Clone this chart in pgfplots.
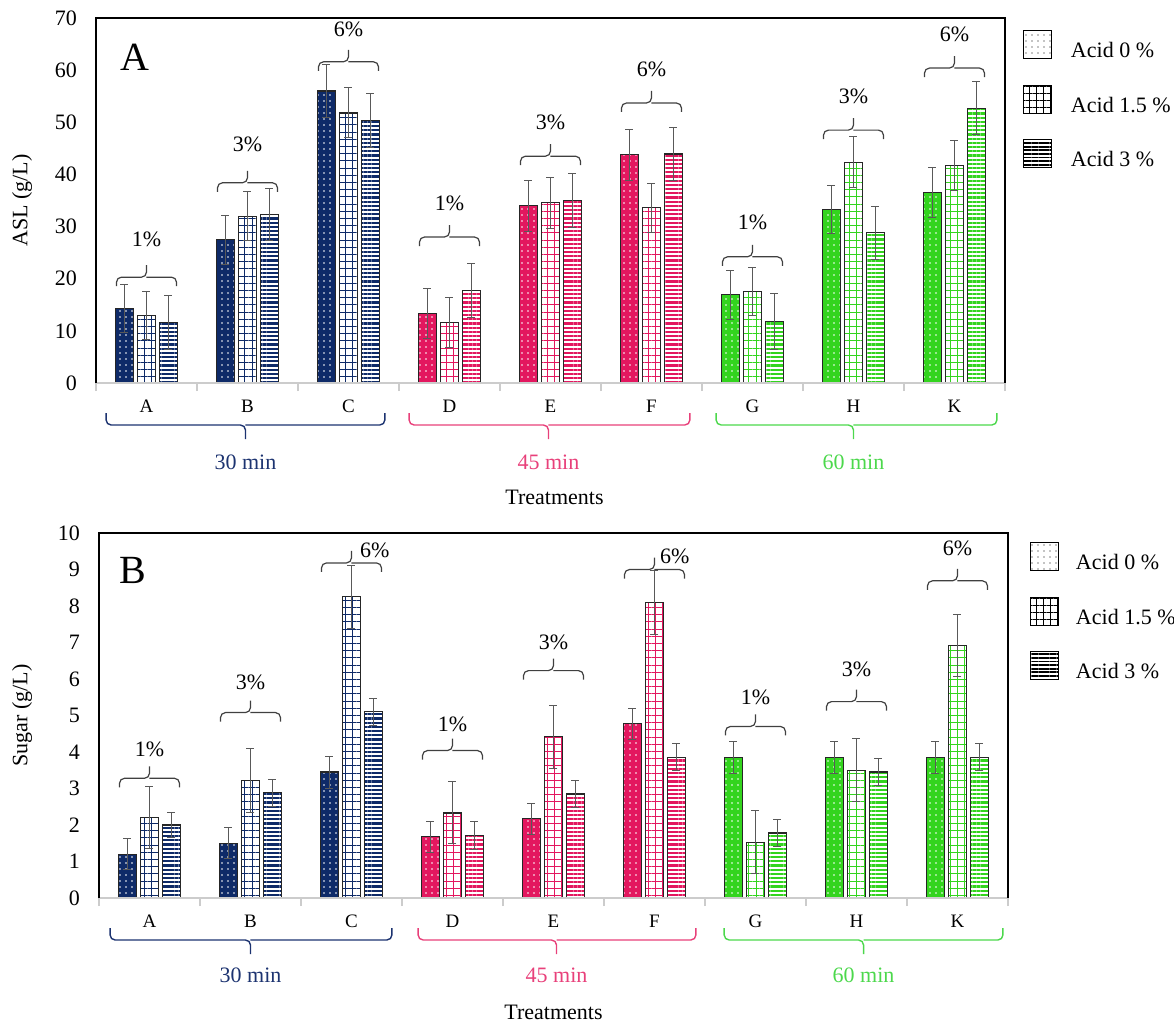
\documentclass[border=0pt]{standalone}
\usepackage{fontspec}
\setmainfont{Liberation Serif}
\usepackage{pgfplots}
\pgfplotsset{compat=1.18}
\usetikzlibrary{patterns.meta}

\definecolor{navy}{HTML}{0E2A68}
\definecolor{pinkc}{HTML}{E3175F}
\definecolor{greenc}{HTML}{33D41E}
\definecolor{navyt}{HTML}{1C3370}
\definecolor{pinkt}{HTML}{E8407A}
\definecolor{greent}{HTML}{4CD84C}

\newcommand\fs{\fontsize{11}{13}\selectfont}
\newcommand\fcat{\fontsize{9.5}{11}\selectfont}

\tikzset{
 dotbar/.style={preaction={fill=#1}, pattern={Dots[radius=0.4pt, distance=3pt]}, pattern color=white, draw=black!85, line width=0.6pt},
 gridbar/.style={preaction={fill=white}, pattern={Hatch[angle=0, distance=3.6pt, line width=0.5pt]}, pattern color=#1, draw=black!85, line width=0.6pt},
 linebar/.style={preaction={fill=white}, pattern={Lines[angle=0, distance=2.1pt, line width=1.1pt]}, pattern color=#1, draw=black!85, line width=0.6pt},
 dotleg/.style={preaction={fill=white}, pattern={Dots[radius=0.35pt, distance=3pt]}, pattern color=black, draw=black, line width=0.5pt},
 gridleg/.style={preaction={fill=white}, pattern={Hatch[angle=0, distance=3.5pt, line width=0.5pt]}, pattern color=black, draw=black, line width=0.5pt},
 lineleg/.style={preaction={fill=white}, pattern={Lines[angle=0, distance=1.8pt, line width=0.9pt]}, pattern color=black, draw=black, line width=0.5pt},
}

\pgfplotsset{
 eb/.style={error bars/.cd, y dir=both, y explicit,
   error bar style={line width=0.5pt, color=black!65},
   error mark options={rotate=90, mark size=2pt, line width=0.5pt, color=black!65}},
 panel/.style={
   scale only axis, width=454.5pt, height=182.5pt, anchor=south west,
   ybar, bar width=9pt,
   xmin=-0.5, xmax=8.5, ymin=0,
   xtick={0,...,8}, xticklabels={A,B,C,D,E,F,G,H,K},
   major tick length=0pt,
   extra x ticks={-0.5,0.5,...,8.5}, extra x tick labels={},
   extra x tick style={major tick length=4pt, tick align=outside, tick style={black!20, line width=0.6pt}},
   xtick pos=bottom, ytick pos=left,
   axis line style={draw=none},
   clip=false,
   ticklabel style={font=\fs},
   xticklabel style={font=\fcat, yshift=-5pt},
   yticklabel style={xshift=-6pt},
   /pgf/number format/assume math mode=true,
   legend style={draw=none, fill=none, inner sep=0pt, outer sep=0pt, row sep=12pt, font=\fs,
     nodes={inner sep=0pt}, /tikz/every odd column/.append style={column sep=9.5pt}},
   legend cell align=left,
   legend image code/.code={\draw[##1] (0pt,-3.5pt) rectangle (14pt,10.5pt);},
 }
}

% brace over a category: x, y of brace line, text, label x, label yshift
\newcommand\pbrace[5]{%
 \draw[black!75, line width=0.6pt, rounded corners=2.5pt]
   ([xshift=-15pt, yshift=-4.5pt]axis cs:#1,#2) |- (axis cs:#1,#2) -- ([yshift=6pt]axis cs:#1,#2);
 \draw[black!75, line width=0.6pt, rounded corners=2.5pt]
   ([xshift=15pt, yshift=-4.5pt]axis cs:#1,#2) |- (axis cs:#1,#2);
 \node[font=\fs] at ([yshift=#5]axis cs:#4,#2) {#3};}
% group brace below axis: x1, x2, xm, colour
\newcommand\gbrace[4]{%
 \draw[#4, line width=0.7pt, rounded corners=2.5pt] ([yshift=-15pt]axis cs:#1,0) |- ([yshift=-21pt]axis cs:#3,0) -- ([yshift=-28pt]axis cs:#3,0);
 \draw[#4, line width=0.7pt, rounded corners=2.5pt] ([yshift=-15pt]axis cs:#2,0) |- ([yshift=-21pt]axis cs:#3,0);}

\begin{document}
\begin{tikzpicture}
\useasboundingbox (0,0) rectangle (587pt,512.5pt);

% ================= Panel A =================
\begin{axis}[panel, at={(48pt,321pt)}, ymax=70, ytick={0,10,...,70},
  legend style={at={(1,1)}, anchor=north west, xshift=9pt, yshift=-6pt}]
\addlegendimage{dotleg}\addlegendentry{Acid 0 \%}
\addlegendimage{gridleg}\addlegendentry{Acid 1.5 \%}
\addlegendimage{lineleg}\addlegendentry{Acid 3 \%}
% 30 min
\addplot[bar shift=-11pt, dotbar=navy, forget plot, eb] coordinates {(0,14.3) +- (0,4.6) (1,27.5) +- (0,4.7) (2,56.0) +- (0,5.0)};
\addplot[bar shift=0pt, gridbar=navy, forget plot, eb] coordinates {(0,13.0) +- (0,4.6) (1,32.0) +- (0,4.7) (2,51.8) +- (0,4.8)};
\addplot[bar shift=11pt, linebar=navy, forget plot, eb] coordinates {(0,11.6) +- (0,5.1) (1,32.3) +- (0,5.0) (2,50.3) +- (0,5.2)};
% 45 min
\addplot[bar shift=-11pt, dotbar=pinkc, forget plot, eb] coordinates {(3,13.3) +- (0,4.8) (4,34.0) +- (0,4.9) (5,43.8) +- (0,4.9)};
\addplot[bar shift=0pt, gridbar=pinkc, forget plot, eb] coordinates {(3,11.6) +- (0,4.8) (4,34.6) +- (0,4.9) (5,33.6) +- (0,4.7)};
\addplot[bar shift=11pt, linebar=pinkc, forget plot, eb] coordinates {(3,17.8) +- (0,5.2) (4,35.0) +- (0,5.2) (5,43.9) +- (0,5.1)};
% 60 min
\addplot[bar shift=-11pt, dotbar=greenc, forget plot, eb] coordinates {(6,16.9) +- (0,4.7) (7,33.2) +- (0,4.6) (8,36.5) +- (0,4.8)};
\addplot[bar shift=0pt, gridbar=greenc, forget plot, eb] coordinates {(6,17.5) +- (0,4.6) (7,42.3) +- (0,4.9) (8,41.7) +- (0,4.8)};
\addplot[bar shift=11pt, linebar=greenc, forget plot, eb] coordinates {(6,11.8) +- (0,5.3) (7,28.8) +- (0,5.1) (8,52.7) +- (0,5.1)};

\draw[black!20, line width=0.8pt] (rel axis cs:0,0) -- (rel axis cs:1,0);
\draw[black, line width=0.7pt] (rel axis cs:0,0) -- (rel axis cs:0,1) -- (rel axis cs:1,1) -- (rel axis cs:1,0);

\pbrace{0}{20.3}{1\%}{0}{19pt}
\pbrace{1}{38.4}{3\%}{1}{19pt}
\pbrace{2}{61.6}{6\%}{2}{16pt}
\pbrace{3}{28.0}{1\%}{3}{17pt}
\pbrace{4}{43.5}{3\%}{4}{17pt}
\pbrace{5}{53.7}{6\%}{5}{17pt}
\pbrace{6}{24.2}{1\%}{6}{17pt}
\pbrace{7}{48.5}{3\%}{7}{17pt}
\pbrace{8}{60.4}{6\%}{8}{17pt}

\gbrace{-0.40}{2.36}{0.98}{navyt}
\gbrace{2.60}{5.38}{3.98}{pinkt}
\gbrace{5.64}{8.42}{7.00}{greent}
\node[font=\fs, text=navyt] at ([yshift=-39.5pt]axis cs:0.98,0) {30 min};
\node[font=\fs, text=pinkt] at ([yshift=-39.5pt]axis cs:3.98,0) {45 min};
\node[font=\fs, text=greent] at ([yshift=-39.5pt]axis cs:7.00,0) {60 min};
\node[font=\fs] at ([yshift=-57pt, xshift=2pt]rel axis cs:0.5,0) {Treatments};
\node[rotate=90, font=\fs] at ([xshift=-37pt]rel axis cs:0,0.5) {ASL (g/L)};
\node[font=\fontsize{20}{24}\selectfont] at ([xshift=19.5pt,yshift=-19.5pt]rel axis cs:0,1) {A};
\end{axis}

% ================= Panel B =================
\begin{axis}[panel, at={(49.5pt,63.5pt)}, ymax=10, ytick={0,1,...,10},
  legend style={at={(1,1)}, anchor=north west, xshift=11pt, yshift=-4.5pt, /tikz/every odd column/.append style={column sep=8.5pt}}]
\addlegendimage{dotleg}\addlegendentry{Acid 0 \%}
\addlegendimage{gridleg}\addlegendentry{Acid 1.5 \%}
\addlegendimage{lineleg}\addlegendentry{Acid 3 \%}
% 30 min
\addplot[bar shift=-11pt, dotbar=navy, forget plot, eb] coordinates {(0,1.2) +- (0,0.42) (1,1.5) +- (0,0.43) (2,3.45) +- (0,0.44)};
\addplot[bar shift=0pt, gridbar=navy, forget plot, eb] coordinates {(0,2.2) +- (0,0.85) (1,3.22) +- (0,0.88) (2,8.25) +- (0,0.87)};
\addplot[bar shift=11pt, linebar=navy, forget plot, eb] coordinates {(0,2.0) +- (0,0.35) (1,2.88) +- (0,0.37) (2,5.1) +- (0,0.37)};
% 45 min
\addplot[bar shift=-11pt, dotbar=pinkc, forget plot, eb] coordinates {(3,1.68) +- (0,0.42) (4,2.17) +- (0,0.43) (5,4.77) +- (0,0.43)};
\addplot[bar shift=0pt, gridbar=pinkc, forget plot, eb] coordinates {(3,2.33) +- (0,0.85) (4,4.42) +- (0,0.86) (5,8.1) +- (0,0.87)};
\addplot[bar shift=11pt, linebar=pinkc, forget plot, eb] coordinates {(3,1.71) +- (0,0.38) (4,2.85) +- (0,0.37) (5,3.86) +- (0,0.38)};
% 60 min
\addplot[bar shift=-11pt, dotbar=greenc, forget plot, eb] coordinates {(6,3.85) +- (0,0.43) (7,3.85) +- (0,0.43) (8,3.85) +- (0,0.43)};
\addplot[bar shift=0pt, gridbar=greenc, forget plot, eb] coordinates {(6,1.53) +- (0,0.86) (7,3.5) +- (0,0.86) (8,6.92) +- (0,0.86)};
\addplot[bar shift=11pt, linebar=greenc, forget plot, eb] coordinates {(6,1.78) +- (0,0.36) (7,3.45) +- (0,0.38) (8,3.86) +- (0,0.38)};

\draw[black!20, line width=0.8pt] (rel axis cs:0,0) -- (rel axis cs:1,0);
\draw[black, line width=0.7pt] (rel axis cs:0,0) -- (rel axis cs:0,1) -- (rel axis cs:1,1) -- (rel axis cs:1,0);

\pbrace{0}{3.28}{1\%}{0}{14.5pt}
\pbrace{1}{5.08}{3\%}{1}{15pt}
\pbrace{2}{9.18}{6\%}{2.23}{6.5pt}
\pbrace{3}{4.04}{1\%}{3}{13pt}
\pbrace{4}{6.23}{3\%}{4}{14pt}
\pbrace{5}{9.0}{6\%}{5.2}{6.5pt}
\pbrace{6}{4.70}{1\%}{6}{14.5pt}
\pbrace{7}{5.38}{3\%}{7}{16pt}
\pbrace{8}{8.69}{6\%}{8}{16pt}

\gbrace{-0.39}{2.40}{1.00}{navyt}
\gbrace{2.66}{5.41}{4.03}{pinkt}
\gbrace{5.69}{8.45}{7.07}{greent}
\node[font=\fs, text=navyt] at ([yshift=-38.5pt]axis cs:1.00,0) {30 min};
\node[font=\fs, text=pinkt] at ([yshift=-38.5pt]axis cs:4.03,0) {45 min};
\node[font=\fs, text=greent] at ([yshift=-38.5pt]axis cs:7.07,0) {60 min};
\node[font=\fs] at ([yshift=-57pt]rel axis cs:0.5,0) {Treatments};
\node[rotate=90, font=\fs] at ([xshift=-38.5pt]rel axis cs:0,0.5) {Sugar (g/L)};
\node[font=\fontsize{20}{24}\selectfont] at ([xshift=17pt,yshift=-18.5pt]rel axis cs:0,1) {B};
\end{axis}
\end{tikzpicture}
\end{document}
